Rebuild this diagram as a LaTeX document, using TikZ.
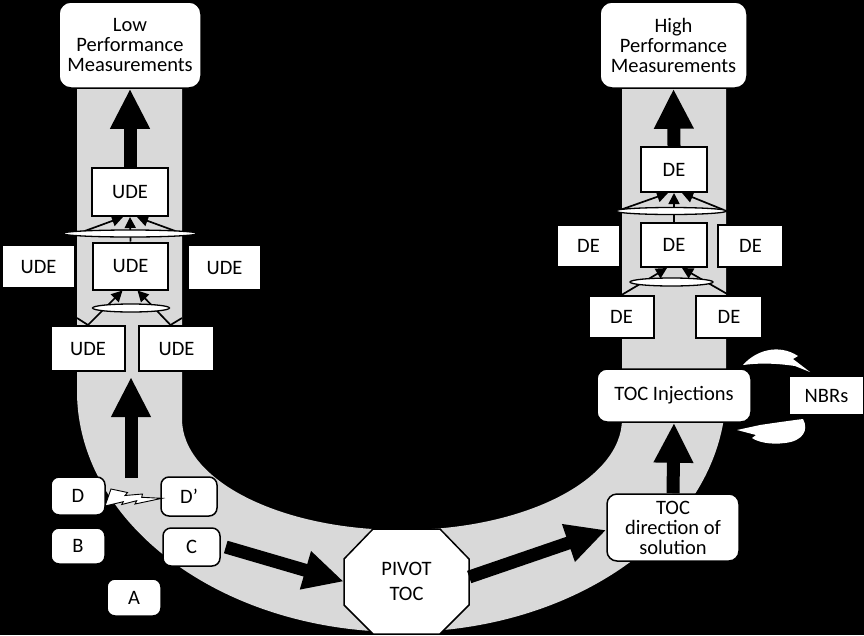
\documentclass[tikz,border=0pt]{standalone}
\usepackage{fontspec}
\setmainfont{Carlito}
\usetikzlibrary{arrows.meta,calc,shapes.geometric}
\definecolor{bandgray}{HTML}{D9D9D9}
\pgfdeclarelayer{bg}
\pgfsetlayers{bg,main}
\begin{document}
\begin{tikzpicture}[x=1pt,y=-1pt,
  every node/.style={font=\fontsize{20.5}{20}\selectfont, inner sep=0pt, align=center},
  sqbox/.style={draw=black, fill=white, line width=2pt},
  rbox/.style={draw=black, fill=white, line width=1.5pt, rounded corners=8pt},
  plainbox/.style={fill=white, draw=none},
  andell/.style={ellipse, draw=black, fill=white, line width=1.3pt},
  smallarr/.style={line width=1.7pt, -{Triangle[length=11pt,width=11pt]}},
  thinline/.style={line width=1.7pt},
  bigarr/.style={line width=13pt, -{Triangle[length=40pt,width=37pt]}},
  swoosh/.style={fill=white, draw=none}
]
\useasboundingbox (0,0) rectangle (864,635);
\begin{pgfonlayer}{bg}
  \fill[black] (0,0) rectangle (864,635);
  \fill[bandgray] (77,88) -- (77,391)
    arc[start angle=180, end angle=0, x radius=324.5, y radius=241]
    -- (726,88) -- (622,88) -- (622,419)
    arc[start angle=0, end angle=180, x radius=220, y radius=111]
    -- (182,88) -- cycle;
\end{pgfonlayer}

% ---------- low side ----------
\node[rbox, rounded corners=12pt, minimum width=142pt, minimum height=86pt] (lowpm) at (130,45) {Low\\Performance\\Measurements};
\node[sqbox, minimum width=76pt, minimum height=48pt] (ude1) at (130,192) {UDE};
\node[sqbox, minimum width=75pt, minimum height=47pt] (ude2) at (130.5,266) {UDE};
\node[sqbox, minimum width=73pt, minimum height=43pt] (udeL) at (38.5,266.5) {UDE};
\node[sqbox, minimum width=73pt, minimum height=45pt] (udeR) at (224.5,267.5) {UDE};
\node[sqbox, minimum width=74pt, minimum height=45pt] (ude3) at (88,348.5) {UDE};
\node[sqbox, minimum width=75pt, minimum height=45pt] (ude4) at (176.5,348.5) {UDE};

% ---------- high side ----------
\node[rbox, rounded corners=12pt, minimum width=147pt, minimum height=86pt] (highpm) at (673.5,45) {High\\Performance\\Measurements};
\node[sqbox, minimum width=66pt, minimum height=45pt] (de1) at (674,169.5) {DE};
\node[sqbox, minimum width=66pt, minimum height=44pt] (de2) at (674,245) {DE};
\node[sqbox, minimum width=63pt, minimum height=42pt] (deL) at (588.5,246) {DE};
\node[sqbox, minimum width=65pt, minimum height=42pt] (deR) at (750.5,246) {DE};
\node[sqbox, minimum width=65pt, minimum height=42pt] (de3) at (621.5,317) {DE};
\node[sqbox, minimum width=66pt, minimum height=42pt] (de4) at (729,317) {DE};

% ---------- bottom ----------
\node[rbox, minimum width=54pt, minimum height=38pt] (D) at (78,496) {D};
\node[rbox, minimum width=56pt, minimum height=39pt] (Dp) at (189,496.5) {D’};
\node[rbox, minimum width=54pt, minimum height=36pt] (B) at (78,546) {B};
\node[rbox, minimum width=57pt, minimum height=38pt] (C) at (191.5,547) {C};
\node[rbox, minimum width=54pt, minimum height=37pt] (A) at (134,597.5) {A};

\node[minimum width=125pt, minimum height=105pt] (pivot) at (406.5,581.5) {};
\draw[fill=white, line width=1.5pt] (373,529) -- (440,529) -- (469,559) -- (469,605) -- (440,634) -- (373,634) -- (344,605) -- (344,559) -- cycle;
\node[font=\fontsize{20.5}{25}\selectfont] (pivottext) at (pivot.center) {PIVOT\\TOC};

\node[rbox, rounded corners=10pt, minimum width=132pt, minimum height=67pt, font=\fontsize{20.5}{20}\selectfont] (tocdir) at (673,527.5) {TOC\\direction of\\solution};
\node[rbox, rounded corners=10pt, minimum width=154pt, minimum height=53pt] (tocinj) at (674,395.5) {TOC Injections};
\node[plainbox, minimum width=73pt, minimum height=37pt] (nbr) at (826.5,395.5) {NBRs};

% ---------- connectors ----------
\draw[bigarr] (ude1.north) -- (lowpm.south);
\draw[bigarr] (de1.north) -- (highpm.south);
\coordinate (lowtail) at (131,478);
\coordinate (lowtip) at (131,377);
\draw[bigarr] (lowtail) -- (lowtip);
\draw[bigarr] ([xshift=5pt]C.east) -- (pivot.west);
\draw[bigarr] ([yshift=4.5pt]pivot.east) -- ([yshift=-2.5pt]tocdir.west);
\draw[bigarr] (tocdir.north) -- (tocinj.south);

% small arrows, low side
\coordinate (t1l) at (82,232);
\coordinate (t1r) at (178,232);
\draw[smallarr] (t1l) -- ([xshift=-7pt]ude1.south);
\draw[smallarr] (t1r) -- ([xshift=7pt]ude1.south);
\draw[smallarr] (ude2.north) -- (ude1.south);
\coordinate (vl) at (77,318);
\coordinate (vr) at (182,318);
\draw[thinline] (vl) -- (ude3.north);
\draw[thinline] (vr) -- ([xshift=-6pt]ude4.north);
\draw[smallarr] (ude3.north) -- ([xshift=-8pt]ude2.south);
\draw[smallarr] ([xshift=-6pt]ude4.north) -- ([xshift=7pt]ude2.south);

% small arrows, high side
\coordinate (h1l) at (620,210);
\coordinate (h1r) at (724,210);
\draw[smallarr] (h1l) -- ([xshift=-6pt]de1.south);
\draw[smallarr] (h1r) -- ([xshift=8pt]de1.south);
\draw[smallarr] (de2.north) -- (de1.south);
\draw[smallarr] (de3.north) -- ([xshift=-7pt]de2.south);
\draw[smallarr] (de4.north) -- ([xshift=8pt]de2.south);

% AND ellipses
\node[andell, minimum width=135pt, minimum height=7pt] (e1) at (130,233.5) {};
\node[andell, minimum width=77pt, minimum height=8pt] (e2) at (131,308) {};
\node[andell, minimum width=111pt, minimum height=7pt] (f1) at (671,211) {};
\node[andell, minimum width=83pt, minimum height=8pt] (f2) at (671.5,282) {};

% conflict bolt between D and D'
\draw[fill=white, line width=0.9pt, line join=miter] (105,506) -- (111,489) -- (127.5,492.5) -- (125,495.5) -- (142.5,494) -- (141.7,497.3) -- (162,498.3) -- (135,504) -- (136.7,500.7) -- (121.7,504.5) -- (123.3,501.7) -- cycle;

% NBR swooshes
\fill[swoosh] (743,365) .. controls (755,351) and (778,343) .. (798,356) -- (793,359) -- (810,372) -- (795,366) .. controls (775,363) and (758,363) .. cycle;
\fill[swoosh] (737,430) -- (760,425) .. controls (780,422) and (795,420) .. (803,419) .. controls (809,430) and (803,441) .. (785,443) .. controls (770,445) and (758,442) .. (752,438) -- (756,435) -- cycle;
\end{tikzpicture}
\end{document}
